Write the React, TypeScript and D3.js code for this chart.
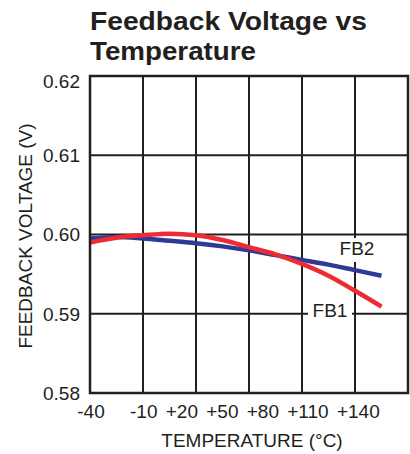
import * as d3 from "d3";

const W = 410;
const H = 454;
const M = { top: 76, left: 90, right: 2, bottom: 61 };

const temps = [-40, -25, -10, 5, 20, 35, 50, 65, 80, 95, 110, 125];
const fb1 = [0.599, 0.5996, 0.5999, 0.6001, 0.5999, 0.5993, 0.5984, 0.5975, 0.5963, 0.5948, 0.5929, 0.5909];
const fb2 = [0.5995, 0.5997, 0.5995, 0.5992, 0.5989, 0.5985, 0.598, 0.5974, 0.5968, 0.5962, 0.5955, 0.5948];

const xTicks = [-40, -10, 20, 50, 80, 110, 140];
const xTickLabels = ["-40", "-10", "+20", "+50", "+80", "+110", "+140"];
const yTicks = [0.58, 0.59, 0.6, 0.61, 0.62];

const FONT = "'Liberation Sans', Arial, Helvetica, sans-serif";
const INK = "#231f20";

const x = d3.scaleLinear().domain([-40, 140]).range([M.left, W - M.right]);
const y = d3.scaleLinear().domain([0.58, 0.62]).range([H - M.bottom, M.top]);

const line = d3
  .line<number>()
  .x((_, i) => x(temps[i]))
  .y((d) => y(d))
  .curve(d3.curveMonotoneX);

export default function App() {
  const x0 = x(-40);
  const x1 = x(140);
  const y0 = y(0.58);
  const y1 = y(0.62);

  return (
    <svg
      width={W}
      height={H}
      style={{ position: "absolute", left: 0, top: 0, background: "#fff" }}
      fontFamily={FONT}
    >
      {/* title */}
      <text x={90} y={30} fontSize={26.5} fontWeight="bold" fill={INK} textLength={277} lengthAdjust="spacingAndGlyphs">
        Feedback Voltage vs
      </text>
      <text x={90} y={60} fontSize={26.5} fontWeight="bold" fill={INK} textLength={166} lengthAdjust="spacingAndGlyphs">
        Temperature
      </text>

      {/* grid */}
      {xTicks.slice(1, -1).map((t) => (
        <line key={"vx" + t} x1={x(t)} x2={x(t)} y1={y1} y2={y0} stroke={INK} strokeWidth={2} />
      ))}
      {yTicks.slice(1, -1).map((v) => (
        <line key={"hy" + v} x1={x0} x2={x1} y1={y(v)} y2={y(v)} stroke={INK} strokeWidth={2} />
      ))}

      {/* curves */}
      <path d={line(fb2) ?? ""} fill="none" stroke="#2e3a97" strokeWidth={4.5} />
      <path d={line(fb1) ?? ""} fill="none" stroke="#ee2a33" strokeWidth={4.5} />

      {/* frame */}
      <rect x={x0} y={y1} width={x1 - x0} height={y0 - y1} fill="none" stroke={INK} strokeWidth={2.5} />

      {/* series labels */}
      <rect x={336} y={238} width={42} height={24} fill="#fff" />
      <text x={357} y={255} fontSize={19} textAnchor="middle" fill={INK}>
        FB2
      </text>
      <rect x={308} y={302} width={44} height={18} fill="#fff" />
      <text x={330} y={317} fontSize={19} textAnchor="middle" fill={INK}>
        FB1
      </text>

      {/* y ticks */}
      {yTicks.map((v, i) => (
        <text
          key={"yt" + v}
          x={80}
          y={y(v) + (i === yTicks.length - 1 ? 5 : 0)}
          dy="0.36em"
          fontSize={19}
          textAnchor="end"
          fill={INK}
        >
          {v.toFixed(2)}
        </text>
      ))}

      {/* x ticks: first one under its gridline, the rest packed as in the original */}
      <text x={x(xTicks[0]) + 1} y={418} fontSize={19} textAnchor="middle" fill={INK}>
        {xTickLabels[0]}
      </text>
      <text x={x(xTicks[1]) - 13} y={418} fontSize={19} wordSpacing={3} fill={INK}>
        {xTickLabels.slice(1).join(" ")}
      </text>

      {/* axis titles */}
      <text x={252} y={447} fontSize={19} textAnchor="middle" fill={INK}>
        TEMPERATURE (°C)
      </text>
      <text
        transform="translate(32,236) rotate(-90)"
        fontSize={19}
        textAnchor="middle"
        fill={INK}
      >
        FEEDBACK VOLTAGE (V)
      </text>
    </svg>
  );
}
